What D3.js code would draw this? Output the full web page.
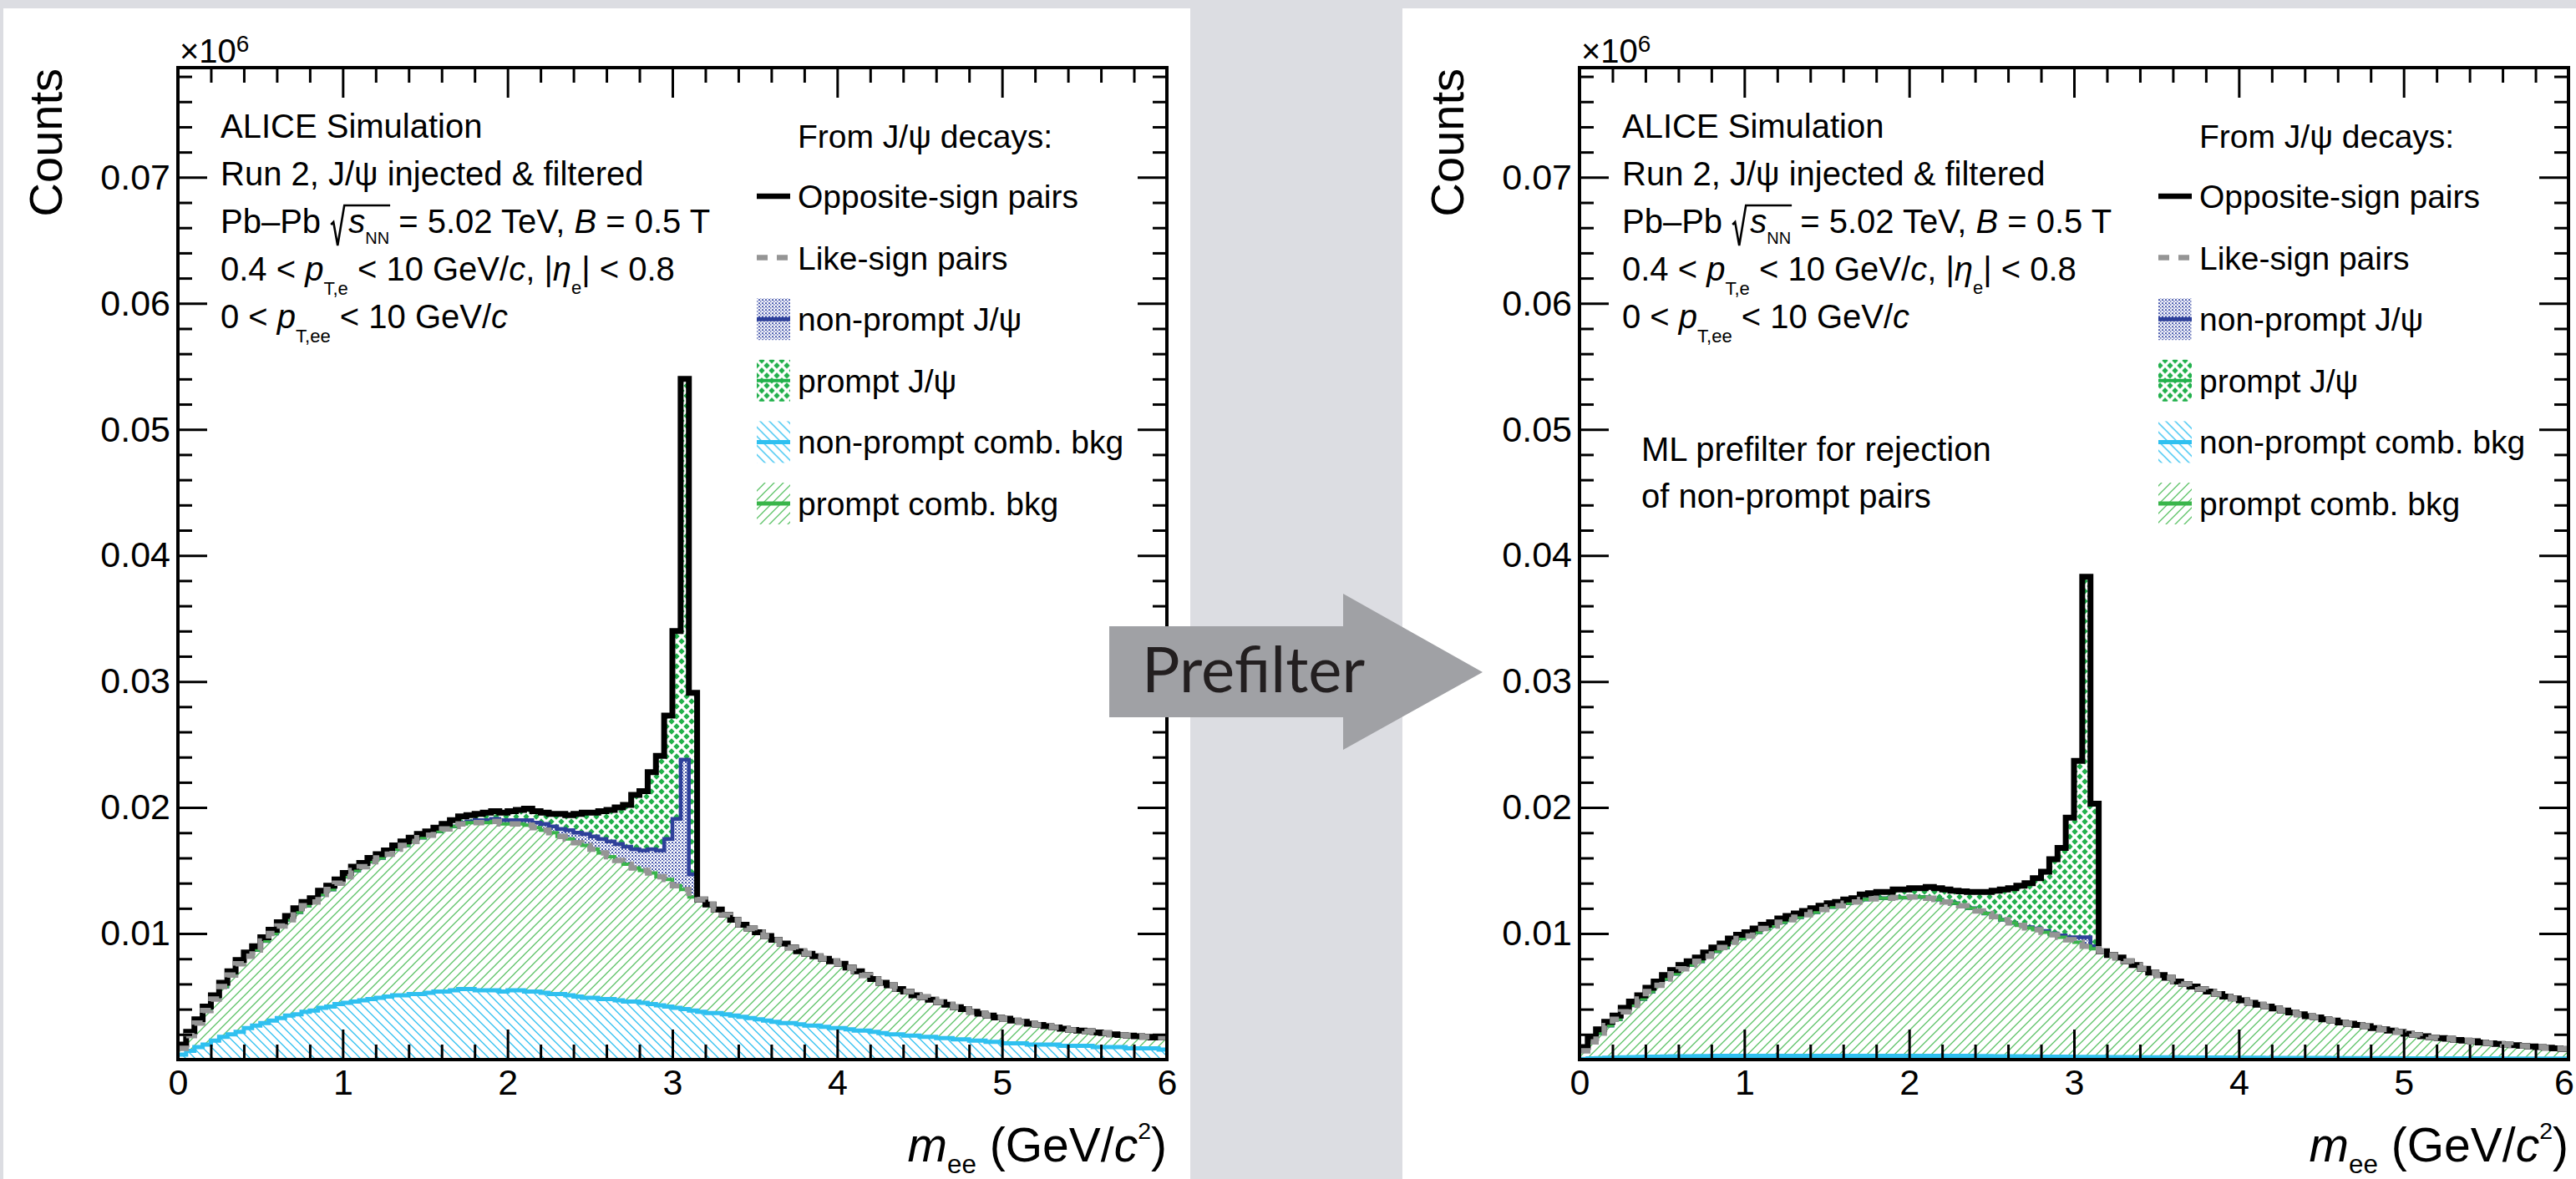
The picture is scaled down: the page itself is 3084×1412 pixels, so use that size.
<!DOCTYPE html>
<html><head><meta charset="utf-8">
<script src="https://cdn.jsdelivr.net/npm/d3@7"></script>
<style>html,body{margin:0;padding:0;background:#dcdde2;overflow:hidden}svg{display:block}</style>
</head><body>
<svg id="chart" width="3084" height="1412" xmlns="http://www.w3.org/2000/svg"></svg>
<script>
// ---------------- DATA ----------------
// m_ee bins of 0.05 GeV/c^2 from 0 to 6; counts given in thousands (axis shows counts x10^6)
const binWidth = 0.05;
const nBins = 120;
const xTickValues = [0,1,2,3,4,5,6];
const xTickLabels = ['0','1','2','3','4','5','6'];
const yTickValues = [10,20,30,40,50,60,70];
const yTickLabels = ['0.01','0.02','0.03','0.04','0.05','0.06','0.07'];
const legendHeader = 'From J/\u03c8 decays:';
const legendLabels = ['Opposite-sign pairs','Like-sign pairs','non-prompt J/\u03c8','prompt J/\u03c8','non-prompt comb. bkg','prompt comb. bkg'];

// ---- left panel (no prefilter) ----
const leftOS = [1.2,2.2,3.2,4.2,5.1,6.1,7.0,7.9,8.5,9.0,
 9.7,10.3,10.9,11.4,12.0,12.5,12.8,13.4,13.8,14.3,
 14.8,15.3,15.6,16.0,16.3,16.6,17.0,17.3,17.6,17.9,
 18.1,18.4,18.7,19.0,19.3,19.4,19.5,19.6,19.7,19.6,
 19.7,19.8,19.9,19.7,19.6,19.5,19.5,19.4,19.5,19.6,
 19.6,19.7,19.8,20.0,20.2,21.0,21.3,22.8,24.1,27.3,
 34.0,54.0,29.1,12.7,12.3,11.9,11.5,11.1,10.7,10.4,
 10.1,9.8,9.5,9.2,8.9,8.6,8.4,8.2,8.0,7.8,
 7.6,7.3,7.0,6.7,6.4,6.1,5.9,5.6,5.4,5.1,
 4.95,4.75,4.55,4.35,4.15,4.0,3.8,3.65,3.5,3.35,
 3.25,3.1,3.0,2.85,2.75,2.65,2.55,2.45,2.35,2.3,
 2.25,2.15,2.1,2.0,1.95,1.9,1.85,1.8,1.75,1.75];
const leftLS = [0.9,1.9,2.9,3.9,4.8,5.8,6.7,7.6,8.2,8.7,
 9.4,10.0,10.6,11.1,11.7,12.2,12.5,13.1,13.5,14.0,
 14.5,15.0,15.3,15.7,16.0,16.3,16.7,17.0,17.3,17.6,
 17.8,18.1,18.3,18.5,18.7,18.8,18.8,18.8,18.9,18.7,
 18.7,18.7,18.6,18.4,18.2,18.0,17.7,17.5,17.2,17.0,
 16.7,16.4,16.1,15.8,15.5,15.2,15.0,14.8,14.5,14.3,
 13.8,13.5,12.9,12.7,12.3,11.9,11.5,11.1,10.7,10.4,
 10.1,9.8,9.5,9.2,8.9,8.6,8.4,8.2,8.0,7.8,
 7.6,7.3,7.0,6.7,6.4,6.1,5.9,5.6,5.4,5.1,
 4.95,4.75,4.55,4.35,4.15,4.0,3.8,3.65,3.5,3.35,
 3.25,3.1,3.0,2.85,2.75,2.65,2.55,2.45,2.35,2.3,
 2.25,2.15,2.1,2.0,1.95,1.9,1.85,1.8,1.75,1.75];
const leftNpBkg = [0.4,0.7,1.0,1.2,1.5,1.8,2.0,2.2,2.5,2.7,
 2.9,3.1,3.3,3.5,3.6,3.8,3.9,4.1,4.2,4.4,
 4.5,4.6,4.7,4.8,4.9,5.0,5.1,5.1,5.2,5.2,
 5.3,5.4,5.4,5.5,5.6,5.6,5.5,5.5,5.5,5.4,
 5.5,5.5,5.4,5.4,5.3,5.2,5.2,5.1,5.0,4.9,
 4.9,4.8,4.8,4.7,4.6,4.6,4.5,4.4,4.3,4.2,
 4.1,4.0,3.9,3.8,3.7,3.7,3.6,3.5,3.4,3.3,
 3.2,3.1,3.0,2.9,2.9,2.8,2.7,2.7,2.6,2.5,
 2.5,2.4,2.3,2.3,2.2,2.1,2.0,2.0,1.9,1.9,
 1.8,1.8,1.7,1.7,1.6,1.6,1.5,1.5,1.4,1.4,
 1.3,1.3,1.3,1.2,1.2,1.2,1.2,1.1,1.1,1.1,
 1.1,1.0,1.0,1.0,1.0,0.9,0.9,0.9,0.9,0.8];
const leftPBkg = [0.5,1.2,1.9,2.7,3.3,4.0,4.7,5.4,5.7,6.0,
 6.5,6.9,7.3,7.6,8.1,8.4,8.6,9.0,9.3,9.6,
 10.0,10.4,10.6,10.9,11.1,11.3,11.6,11.9,12.1,12.4,
 12.5,12.7,12.9,13.0,13.1,13.2,13.3,13.3,13.4,13.3,
 13.2,13.2,13.2,13.0,12.9,12.8,12.5,12.4,12.2,12.1,
 11.8,11.6,11.3,11.1,10.9,10.6,10.5,10.4,10.2,10.1,
 9.7,9.5,9.0,8.9,8.6,8.2,7.9,7.6,7.3,7.1,
 6.9,6.7,6.5,6.3,6.0,5.8,5.7,5.5,5.4,5.3,
 5.1,4.9,4.7,4.4,4.2,4.0,3.9,3.6,3.5,3.2,
 3.15,2.95,2.85,2.65,2.55,2.4,2.3,2.15,2.1,1.95,
 1.95,1.8,1.7,1.65,1.55,1.45,1.35,1.35,1.25,1.2,
 1.15,1.15,1.1,1.0,0.95,1.0,0.95,0.9,0.85,0.95];
const leftNpJpsi = [0,0,0,0,0,0,0,0,0,0,
 0,0,0,0,0,0,0,0,0,0,
 0,0,0,0,0,0,0,0,0,0,
 0,0,0,0,0.1,0.1,0.2,0.2,0.2,0.3,
 0.3,0.3,0.4,0.4,0.5,0.5,0.6,0.7,0.8,0.9,
 1.0,1.1,1.2,1.3,1.4,1.5,1.6,1.9,2.1,3.2,
 5.3,10.3,1.8,0,0,0,0,0,0,0,
 0,0,0,0,0,0,0,0,0,0,
 0,0,0,0,0,0,0,0,0,0,
 0,0,0,0,0,0,0,0,0,0,
 0,0,0,0,0,0,0,0,0,0,
 0,0,0,0,0,0,0,0,0,0];
const leftPJpsi = [0.3,0.3,0.3,0.3,0.3,0.3,0.3,0.3,0.3,0.3,
 0.3,0.3,0.3,0.3,0.3,0.3,0.3,0.3,0.3,0.3,
 0.3,0.3,0.3,0.3,0.3,0.3,0.3,0.3,0.3,0.3,
 0.3,0.3,0.4,0.5,0.5,0.5,0.5,0.6,0.6,0.6,
 0.7,0.8,0.9,0.9,0.9,1.0,1.2,1.2,1.5,1.7,
 1.9,2.2,2.5,2.9,3.3,4.3,4.7,6.1,7.5,9.8,
 14.9,30.2,14.4,0,0,0,0,0,0,0,
 0,0,0,0,0,0,0,0,0,0,
 0,0,0,0,0,0,0,0,0,0,
 0,0,0,0,0,0,0,0,0,0,
 0,0,0,0,0,0,0,0,0,0,
 0,0,0,0,0,0,0,0,0,0];

// ---- right panel (ML prefilter) ----
const rightOS = [1.0,1.7,2.4,3.0,3.5,4.1,4.6,5.1,5.7,6.2,
 6.7,7.1,7.5,7.8,8.1,8.5,8.9,9.2,9.6,9.9,
 10.1,10.4,10.7,10.9,11.2,11.4,11.6,11.8,12.0,12.2,
 12.4,12.5,12.7,12.8,13.1,13.2,13.3,13.3,13.5,13.5,
 13.6,13.6,13.7,13.6,13.5,13.4,13.35,13.3,13.3,13.3,
 13.4,13.5,13.6,13.8,14.0,14.4,14.9,15.9,16.8,19.2,
 23.7,38.3,20.3,8.6,8.3,8.1,7.8,7.5,7.2,6.9,
 6.7,6.5,6.2,6.0,5.8,5.6,5.4,5.2,5.0,4.85,
 4.7,4.5,4.35,4.2,4.05,3.9,3.75,3.6,3.45,3.35,
 3.2,3.1,2.95,2.85,2.75,2.65,2.5,2.4,2.3,2.2,
 2.05,1.95,1.85,1.75,1.7,1.65,1.55,1.5,1.45,1.35,
 1.3,1.25,1.2,1.15,1.1,1.05,1.0,0.95,0.9,0.85];
const rightLS = [0.7,1.4,2.1,2.7,3.2,3.8,4.3,4.8,5.4,5.9,
 6.4,6.8,7.2,7.5,7.8,8.2,8.6,8.9,9.3,9.6,
 9.8,10.1,10.4,10.6,10.9,11.1,11.3,11.5,11.7,11.9,
 12.1,12.2,12.4,12.5,12.7,12.75,12.8,12.8,12.85,12.85,
 12.9,12.9,12.8,12.7,12.5,12.4,12.2,12.0,11.8,11.6,
 11.35,11.1,10.85,10.65,10.45,10.3,10.1,9.9,9.7,9.5,
 9.3,9.0,8.8,8.6,8.3,8.1,7.8,7.5,7.2,6.9,
 6.7,6.5,6.2,6.0,5.8,5.6,5.4,5.2,5.0,4.85,
 4.7,4.5,4.35,4.2,4.05,3.9,3.75,3.6,3.45,3.35,
 3.2,3.1,2.95,2.85,2.75,2.65,2.5,2.4,2.3,2.2,
 2.05,1.95,1.85,1.75,1.7,1.65,1.55,1.5,1.45,1.35,
 1.3,1.25,1.2,1.15,1.1,1.05,1.0,0.95,0.9,0.85];
const rightNpBkg = [0.05,0.1,0.12,0.15,0.17,0.19,0.2,0.22,0.23,0.24,
 0.25,0.26,0.27,0.27,0.28,0.28,0.29,0.29,0.3,0.3,
 0.3,0.3,0.3,0.3,0.3,0.3,0.3,0.3,0.3,0.3,
 0.3,0.3,0.3,0.3,0.3,0.3,0.3,0.3,0.3,0.3,
 0.3,0.3,0.3,0.3,0.3,0.3,0.29,0.29,0.28,0.28,
 0.27,0.27,0.26,0.26,0.25,0.25,0.24,0.24,0.23,0.23,
 0.22,0.22,0.21,0.21,0.2,0.2,0.2,0.19,0.19,0.19,
 0.18,0.18,0.18,0.17,0.17,0.17,0.16,0.16,0.16,0.15,
 0.15,0.15,0.15,0.14,0.14,0.14,0.14,0.13,0.13,0.13,
 0.13,0.12,0.12,0.12,0.12,0.11,0.11,0.11,0.11,0.1,
 0.1,0.1,0.1,0.1,0.1,0.1,0.1,0.1,0.1,0.1,
 0.1,0.1,0.09,0.09,0.09,0.09,0.08,0.08,0.08,0.08];
const rightPBkg = [0.65,1.3,1.98,2.55,3.03,3.61,4.1,4.58,5.17,5.66,
 6.15,6.54,6.93,7.23,7.52,7.92,8.31,8.61,9.0,9.3,
 9.5,9.8,10.1,10.3,10.6,10.8,11.0,11.2,11.4,11.6,
 11.8,11.9,12.1,12.2,12.4,12.45,12.5,12.5,12.55,12.55,
 12.6,12.6,12.5,12.4,12.2,12.1,11.91,11.71,11.52,11.32,
 11.08,10.83,10.59,10.39,10.2,10.05,9.86,9.66,9.47,9.27,
 9.08,8.78,8.59,8.39,8.1,7.9,7.6,7.31,7.01,6.71,
 6.52,6.32,6.02,5.83,5.63,5.43,5.24,5.04,4.84,4.7,
 4.55,4.35,4.2,4.06,3.91,3.76,3.61,3.47,3.32,3.22,
 3.07,2.98,2.83,2.73,2.63,2.54,2.39,2.29,2.19,2.1,
 1.95,1.85,1.75,1.65,1.6,1.55,1.45,1.4,1.35,1.25,
 1.2,1.15,1.11,1.06,1.01,0.96,0.92,0.87,0.82,0.77];
const rightNpJpsi = [0,0,0,0,0,0,0,0,0,0,
 0,0,0,0,0,0,0,0,0,0,
 0,0,0,0,0,0,0,0,0,0,
 0,0,0,0,0,0,0,0,0,0,
 0,0,0,0,0,0,0,0,0,0,
 0,0,0,0.05,0.05,0.1,0.1,0.1,0.15,0.2,
 0.4,0.7,0.2,0,0,0,0,0,0,0,
 0,0,0,0,0,0,0,0,0,0,
 0,0,0,0,0,0,0,0,0,0,
 0,0,0,0,0,0,0,0,0,0,
 0,0,0,0,0,0,0,0,0,0,
 0,0,0,0,0,0,0,0,0,0];
const rightPJpsi = [0.3,0.3,0.3,0.3,0.3,0.3,0.3,0.3,0.3,0.3,
 0.3,0.3,0.3,0.3,0.3,0.3,0.3,0.3,0.3,0.3,
 0.3,0.3,0.3,0.3,0.3,0.3,0.3,0.3,0.3,0.3,
 0.3,0.3,0.3,0.3,0.4,0.45,0.5,0.5,0.65,0.65,
 0.7,0.7,0.9,0.9,1.0,1.0,1.15,1.3,1.5,1.7,
 2.05,2.4,2.75,3.1,3.5,4.0,4.7,5.9,6.95,9.5,
 14.0,28.6,11.3,0,0,0,0,0,0,0,
 0,0,0,0,0,0,0,0,0,0,
 0,0,0,0,0,0,0,0,0,0,
 0,0,0,0,0,0,0,0,0,0,
 0,0,0,0,0,0,0,0,0,0,
 0,0,0,0,0,0,0,0,0,0];

// ---------------- DRAWING ----------------
const FONT = "'Liberation Sans', Arial, Helvetica, sans-serif";
const COL = {cyan:'#2fc0f0', green:'#39b54a', greenHatch:'#5cc266', blue:'#2e409a', blueDot:'#4a5aad',
             diamond:'#22b14c', ls:'#959595', page:'#dcdde2', arrow:'#a0a1a5'};
const FR = {x0:213, x1:1397, y0:81, y1:1269};
const PAGE_W = 3084;
const svg = d3.select('#chart');
svg.append('rect').attr('width',PAGE_W).attr('height',1412).attr('fill',COL.page);
const defs = svg.append('defs');

function pat(id, size, draw){
  const p = defs.append('pattern').attr('id',id).attr('patternUnits','userSpaceOnUse')
    .attr('width',size).attr('height',size);
  draw(p);
}
pat('hCyan', 11, p => p.append('path').attr('d','M-1,-1L12,12M10,-1L12,1M-1,10L1,12')
  .attr('stroke',COL.cyan).attr('stroke-width',1.3).attr('fill','none'));
pat('hGreen', 11, p => p.append('path').attr('d','M-1,12L12,-1M-1,1L1,-1M10,12L12,10')
  .attr('stroke',COL.greenHatch).attr('stroke-width',1.3).attr('fill','none'));
pat('dBlue', 4, p => {
  p.append('rect').attr('width',4).attr('height',4).attr('fill','#fff');
  p.append('rect').attr('x',0).attr('y',0).attr('width',2).attr('height',2).attr('fill',COL.blueDot);
  p.append('rect').attr('x',2).attr('y',2).attr('width',1.5).attr('height',1.5).attr('fill',COL.blueDot);
});
pat('dGreen', 12, p => {
  p.append('rect').attr('width',12).attr('height',12).attr('fill','#fff');
  const r = 3.7;
  const dia = (cx,cy) => `M${cx},${cy-r}L${cx+r},${cy}L${cx},${cy+r}L${cx-r},${cy}Z`;
  p.append('path').attr('d', dia(6,6)+dia(0,0)+dia(12,0)+dia(0,12)+dia(12,12)).attr('fill',COL.diamond);
});

// rich text helper with italic / sub / sup pieces
function rich(parent, x, y, segs, fs, anchor){
  const t = parent.append('text').attr('x',x).attr('y',y).attr('font-size',fs)
    .attr('font-family',FONT).attr('fill','#000');
  if (anchor) t.attr('text-anchor',anchor);
  let shift = 0, idx = 0; const marks = {};
  segs.forEach(s => {
    const ts = t.append('tspan').text(s.t);
    const target = s.sub ? s.sub[1] : (s.sup ? -s.sup[1] : 0);
    const size = s.sub ? fs*s.sub[0] : (s.sup ? fs*s.sup[0] : fs);
    if (target !== shift) { ts.attr('dy', target-shift); shift = target; }
    if (size !== fs) ts.attr('font-size', size);
    if (s.it) ts.attr('font-style','italic');
    if (s.dx) ts.attr('dx', s.dx);
    if (s.radStart) marks.start = idx;
    idx += s.t.length;
    if (s.radEnd) marks.end = idx-1;
  });
  if (marks.start !== undefined) {
    const n = t.node();
    const sx = n.getStartPositionOfChar(marks.start).x;
    const ex = n.getEndPositionOfChar(marks.end).x;
    parent.append('path')
      .attr('d',`M${sx-21},${y-10}L${sx-18},${y-13}L${sx-13},${y+15}L${sx-5},${y-33}L${ex+1},${y-33}`)
      .attr('fill','none').attr('stroke','#000').attr('stroke-width',2.6).attr('stroke-linejoin','miter');
  }
  return t;
}

function drawPanel(ox, d, extra){
  const g = svg.append('g');
  const x = d3.scaleLinear().domain([0,6]).range([FR.x0+ox, FR.x1+ox]);
  const y = d3.scaleLinear().domain([0,78.7]).range([FR.y1, FR.y0]);
  const clipId = 'clip'+ox;
  defs.append('clipPath').attr('id',clipId).append('rect')
    .attr('x',FR.x0+ox).attr('y',FR.y0).attr('width',FR.x1-FR.x0).attr('height',FR.y1-FR.y0);

  const rows = d3.range(nBins).map(i => ({m:i*binWidth, npBkg:d.npBkg[i], pBkg:d.pBkg[i],
      npJpsi:d.npJpsi[i], pJpsi:d.pJpsi[i], os:d.os[i], ls:d.ls[i]}));
  rows.push(Object.assign({}, rows[nBins-1], {m:nBins*binWidth}));
  const keys = ['npBkg','pBkg','npJpsi','pJpsi'];
  const stack = d3.stack().keys(keys)(rows);
  const plot = g.append('g').attr('clip-path',`url(#${clipId})`);

  const area = d3.area().curve(d3.curveStepAfter).x(p=>x(p.data.m)).y0(p=>y(p[0])).y1(p=>y(p[1]));
  const fills = {npBkg:'url(#hCyan)', pBkg:'url(#hGreen)', npJpsi:'url(#dBlue)', pJpsi:'url(#dGreen)'};
  stack.forEach(s => plot.append('path').attr('d',area(s)).attr('fill',fills[s.key]));

  const line = d3.line().curve(d3.curveStepAfter).x(p=>x(p.data.m)).y(p=>y(p[1]));
  const strokes = {pJpsi:[COL.diamond,3], npJpsi:[COL.blue,4.5], pBkg:[COL.green,4], npBkg:[COL.cyan,5]};
  ['pJpsi','npJpsi','pBkg','npBkg'].forEach(k => {
    const s = stack.find(t => t.key===k);
    plot.append('path').attr('d',line(s)).attr('fill','none')
      .attr('stroke',strokes[k][0]).attr('stroke-width',strokes[k][1]);
  });
  const osLine = d3.line().curve(d3.curveStepAfter).x(p=>x(p.m)).y(p=>y(p.os));
  plot.append('path').attr('d',osLine(rows)).attr('fill','none').attr('stroke','#000')
    .attr('stroke-width',7).attr('stroke-linejoin','miter');
  const lsLine = d3.line().curve(d3.curveStepAfter).x(p=>x(p.m)).y(p=>y(p.ls));
  plot.append('path').attr('d',lsLine(rows)).attr('fill','none').attr('stroke',COL.ls)
    .attr('stroke-width',6.5).attr('stroke-dasharray','13 11');

  // axes (ticks inward on all sides)
  const xMinor = d3.range(31).map(i => i*0.2).filter(v => Math.abs(v-Math.round(v))>1e-6);
  const yMinor = d3.range(40).map(i => i*2).filter(v => v%10!==0);
  function styleAx(sel, labels){
    sel.select('.domain').remove();
    sel.selectAll('line').attr('stroke','#000').attr('stroke-width',3);
    sel.attr('font-size',43).attr('font-family',FONT);
    sel.selectAll('text').attr('fill','#000');
    if (!labels) sel.selectAll('text').remove();
  }
  const bottomMaj = g.append('g').attr('transform',`translate(0,${FR.y1})`)
    .call(d3.axisBottom(x).tickValues(xTickValues).tickSize(-36).tickPadding(11)
      .tickFormat((v,i)=>xTickLabels[i]));
  styleAx(bottomMaj, true);
  // keep the last label inside the page
  bottomMaj.selectAll('text').each(function(){
    const bb = this.getBBox(); const tr = this.parentNode.transform.baseVal.consolidate();
    const right = tr.matrix.e + bb.x + bb.width;
    if (right > PAGE_W - 2) d3.select(this).attr('x', (PAGE_W - 2) - right);
  });
  styleAx(g.append('g').attr('transform',`translate(0,${FR.y1})`)
    .call(d3.axisBottom(x).tickValues(xMinor).tickSize(-18).tickFormat('')), false);
  styleAx(g.append('g').attr('transform',`translate(0,${FR.y0})`)
    .call(d3.axisTop(x).tickValues(xTickValues).tickSize(-36).tickFormat('')), false);
  styleAx(g.append('g').attr('transform',`translate(0,${FR.y0})`)
    .call(d3.axisTop(x).tickValues(xMinor).tickSize(-18).tickFormat('')), false);
  const leftMaj = g.append('g').attr('transform',`translate(${FR.x0+ox},0)`)
    .call(d3.axisLeft(y).tickValues(yTickValues).tickSize(-35).tickPadding(9)
      .tickFormat((v,i)=>yTickLabels[i]));
  styleAx(leftMaj, true);
  styleAx(g.append('g').attr('transform',`translate(${FR.x0+ox},0)`)
    .call(d3.axisLeft(y).tickValues(yMinor).tickSize(-17).tickFormat('')), false);
  styleAx(g.append('g').attr('transform',`translate(${FR.x1+ox},0)`)
    .call(d3.axisRight(y).tickValues(yTickValues).tickSize(-35).tickFormat('')), false);
  styleAx(g.append('g').attr('transform',`translate(${FR.x1+ox},0)`)
    .call(d3.axisRight(y).tickValues(yMinor).tickSize(-17).tickFormat('')), false);

  g.append('rect').attr('x',FR.x0+ox).attr('y',FR.y0).attr('width',FR.x1-FR.x0).attr('height',FR.y1-FR.y0)
    .attr('fill','none').attr('stroke','#000').attr('stroke-width',4);

  // axis titles
  rich(g, FR.x0+ox+2, 75, [{t:'\u00d710'},{t:'6', sup:[0.7,13]}], 40);
  rich(g, FR.x1+ox, 1391, [{t:'m', it:true},{t:'ee', sub:[0.55,14]},{t:' (GeV/'},{t:'c', it:true},
       {t:'2', sup:[0.5,27]},{t:')'}], 57, 'end');
  g.append('text').attr('transform',`translate(${74+ox},${FR.y0+1}) rotate(-90)`)
    .attr('text-anchor','end').attr('font-size',56).attr('font-family',FONT).attr('fill','#000').text('Counts');

  // info text block
  const tx = FR.x0+ox+51;
  const tl = [
    [{t:'ALICE Simulation'}],
    [{t:'Run 2, J/\u03c8 injected & filtered'}],
    [{t:'Pb\u2013Pb '},{t:'s', it:true, dx:22, radStart:true},{t:'NN', sub:[0.5,13], radEnd:true},
     {t:' = 5.02 TeV, '},{t:'B', it:true},{t:' = 0.5 T'}],
    [{t:'0.4 < '},{t:'p', it:true},{t:'T,e', sub:[0.55,17]},{t:' < 10 GeV/'},{t:'c', it:true},
     {t:', |'},{t:'\u03b7', it:true},{t:'e', sub:[0.55,16]},{t:'| < 0.8'}],
    [{t:'0 < '},{t:'p', it:true},{t:'T,ee', sub:[0.55,17]},{t:' < 10 GeV/'},{t:'c', it:true}]
  ];
  tl.forEach((segs,i) => rich(g, tx, 165+57*i, segs, 40));
  (extra||[]).forEach((s,i) => rich(g, FR.x0+ox+74, 552+56*i, [{t:s}], 40));

  // legend
  const lx = 955+ox, bx = 906+ox, bw = 40;
  rich(g, lx, 177, [{t:legendHeader}], 39);
  const sym = [
    gg => gg.append('line').attr('x1',bx).attr('x2',bx+bw).attr('stroke','#000').attr('stroke-width',6.5),
    gg => gg.append('line').attr('x1',bx).attr('x2',bx+bw).attr('stroke',COL.ls).attr('stroke-width',6.5).attr('stroke-dasharray','13 11'),
    gg => { gg.append('rect').attr('x',bx).attr('y',-25).attr('width',bw).attr('height',50).attr('fill','url(#dBlue)');
            gg.append('line').attr('x1',bx).attr('x2',bx+bw).attr('stroke',COL.blue).attr('stroke-width',5); },
    gg => { gg.append('rect').attr('x',bx).attr('y',-25).attr('width',bw).attr('height',50).attr('fill','url(#dGreen)');
            gg.append('line').attr('x1',bx).attr('x2',bx+bw).attr('stroke',COL.diamond).attr('stroke-width',4); },
    gg => { gg.append('rect').attr('x',bx).attr('y',-25).attr('width',bw).attr('height',50).attr('fill','url(#hCyan)');
            gg.append('line').attr('x1',bx).attr('x2',bx+bw).attr('stroke',COL.cyan).attr('stroke-width',5); },
    gg => { gg.append('rect').attr('x',bx).attr('y',-25).attr('width',bw).attr('height',50).attr('fill','url(#hGreen)');
            gg.append('line').attr('x1',bx).attr('x2',bx+bw).attr('stroke',COL.green).attr('stroke-width',5); }
  ];
  legendLabels.forEach((lab,k) => {
    const cy = 235 + k*73.6;
    const gg = g.append('g').attr('transform',`translate(0,${cy})`);
    sym[k](gg);
    rich(gg, lx, 14, [{t:lab}], 39);
  });
}

// white panels
svg.append('rect').attr('x',4).attr('y',10).attr('width',1421).attr('height',1402).attr('fill','#fff');
svg.append('rect').attr('x',1679).attr('y',10).attr('width',1405).attr('height',1402).attr('fill','#fff');

drawPanel(0, {os:leftOS, ls:leftLS, npBkg:leftNpBkg, pBkg:leftPBkg, npJpsi:leftNpJpsi, pJpsi:leftPJpsi});
drawPanel(1678, {os:rightOS, ls:rightLS, npBkg:rightNpBkg, pBkg:rightPBkg, npJpsi:rightNpJpsi, pJpsi:rightPJpsi},
  ['ML prefilter for rejection','of non-prompt pairs']);

// "Prefilter" arrow between panels
svg.append('path').attr('d','M1328,750L1608,750L1608,711L1775,805L1608,898L1608,859L1328,859Z').attr('fill',COL.arrow);
svg.append('text').attr('x',1367).attr('y',829).attr('font-size',76)
  .attr('font-family',"Lato, 'Open Sans', 'Noto Sans', sans-serif").attr('fill','#231f20').text('Prefilter');
</script>
</body></html>
